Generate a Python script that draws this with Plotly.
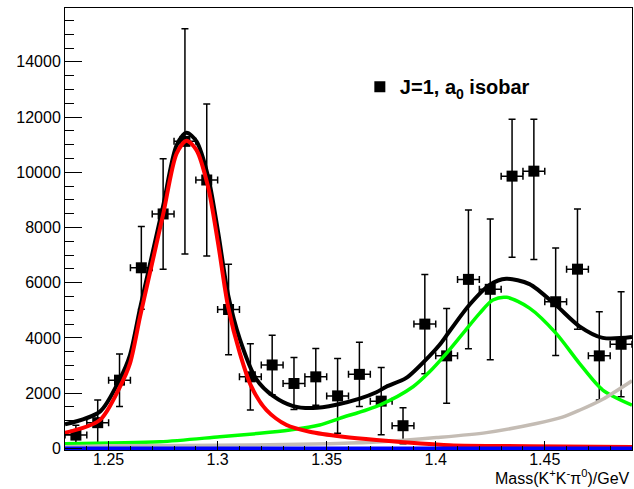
import plotly.graph_objects as go

# ---- data points (bin centres, yields, errors) ----
mass = [1.235, 1.245, 1.255, 1.265, 1.275, 1.285, 1.295, 1.305, 1.315, 1.325,
        1.335, 1.345, 1.355, 1.365, 1.375, 1.385, 1.395, 1.405, 1.415, 1.425,
        1.435, 1.445, 1.455, 1.465, 1.475, 1.485]
yields = [480, 930, 2470, 6540, 8490, 11120, 9720, 5030, 2590, 3020,
          2350, 2590, 1900, 2680, 1710, 820, 4500, 3350, 6120, 5760,
          9860, 10040, 5310, 6490, 3350, 3770]
err_up = [360, 820, 950, 1500, 2000, 4080, 2750, 1640, 1200, 1080,
          940, 1030, 1355, 1160, 1220, 650, 1800, 1715, 2510, 2550,
          2060, 1880, 1950, 2180, 1600, 1900]
err_dn = [360, 820, 950, 1500, 2000, 4080, 2750, 1640, 1200, 1080,
          940, 1030, 1355, 1160, 1220, 650, 1800, 1715, 2510, 2550,
          2940, 3200, 1950, 2180, 1600, 1900]
half_bin = [0.005] * len(mass)

# ---- fit components ----
tot_x = [1.2300, 1.2460, 1.2552, 1.2598, 1.2644, 1.2682, 1.2750, 1.2812, 1.2857,
         1.2903, 1.2956, 1.3002, 1.3048, 1.3102, 1.3178, 1.3254, 1.3346, 1.3437,
         1.3544, 1.3651, 1.3728, 1.3773, 1.3865, 1.3972, 1.4018, 1.4064, 1.4155,
         1.4247, 1.4323, 1.4430, 1.4552, 1.4659, 1.4766, 1.4900]
tot_y = [870, 1330, 2520, 3380, 5070, 6400, 8780, 10980, 11431,
         11120, 9850, 7830, 5560, 3950, 2500, 1900, 1530, 1460,
         1580, 1800, 2030, 2231, 2550, 3350, 3750, 4250, 5200,
         5920, 6140, 5950, 5180, 4420, 4000, 4030]

f1_x = [1.2300, 1.2460, 1.2552, 1.2598, 1.2644, 1.2682, 1.2750, 1.2812, 1.2857,
        1.2903, 1.2956, 1.3002, 1.3048, 1.3102, 1.3155, 1.3224, 1.3316, 1.3422,
        1.3575, 1.3728, 1.4064, 1.4430, 1.4900]
f1_y = [560, 1025, 2231, 3079, 4767, 6096, 8475, 10685, 11141,
        10804, 9475, 7425, 5129, 3441, 2231, 1387, 844, 601,
        420, 301, 110, 80, 50]

f2_x = [1.2300, 1.2735, 1.3010, 1.3193, 1.3331, 1.3468, 1.3560, 1.3743, 1.3896,
        1.3972, 1.4049, 1.4125, 1.4201, 1.4262, 1.4325, 1.4430, 1.4552, 1.4659,
        1.4766, 1.4900]
f2_y = [170, 239, 420, 543, 663, 844, 1087, 1568, 2231,
        2774, 3441, 4165, 4890, 5371, 5469, 5080, 4165, 3079,
        2112, 1568]

bkg_x = [1.2300, 1.2506, 1.3147, 1.3514, 1.3729, 1.4004, 1.4233, 1.4462, 1.4581,
         1.4659, 1.4766, 1.4900]
bkg_y = [60, 90, 120, 170, 230, 390, 570, 900, 1130, 1380, 1780, 2447]

flat_x = [1.2300, 1.4900]
flat_y = [0, 0]

FONT = "Liberation Sans, Arial, Helvetica, sans-serif"

fig = go.Figure()

fig.add_trace(go.Scatter(
    x=mass, y=yields, mode="markers", name="<b>J=1, a<sub>0</sub> isobar</b>",
    marker=dict(symbol="square", size=11, color="black"),
    error_y=dict(type="data", symmetric=False, array=err_up, arrayminus=err_dn,
                 color="black", thickness=1.5, width=3.5),
    error_x=dict(type="data", array=half_bin, color="black", thickness=1.5, width=3.5),
    showlegend=True))

curves = [
    (tot_x, tot_y, "black", 4),
    (f2_x, f2_y, "#00ff00", 3.5),
    (bkg_x, bkg_y, "#c4bcb4", 3.5),
    (f1_x, f1_y, "#ff0000", 4),
    (flat_x, flat_y, "#0000ff", 3.5),
]
for cx, cy, col, w in curves:
    fig.add_trace(go.Scatter(x=cx, y=cy, mode="lines",
                             line=dict(color=col, width=w, shape="spline", smoothing=0.8),
                             showlegend=False, hoverinfo="skip"))

fig.update_layout(
    width=634, height=489,
    margin=dict(l=65, r=2, t=8, b=39),
    paper_bgcolor="white", plot_bgcolor="white",
    font=dict(family=FONT, size=16, color="black"),
    legend=dict(x=0.52, y=0.822, xanchor="left", yanchor="middle",
                bgcolor="rgba(0,0,0,0)", font=dict(family=FONT, size=20, color="black")),
    annotations=[dict(
        text="Mass(K<sup>+</sup>K<sup>-</sup>\u03c0<sup>0</sup>)/GeV",
        xref="paper", yref="paper", x=1.0, y=-0.0888, xanchor="right", yanchor="bottom",
        showarrow=False, font=dict(family=FONT, size=16, color="black"))],
)

fig.update_xaxes(
    range=[1.23, 1.49], showgrid=False, zeroline=False,
    showline=True, linecolor="black", linewidth=1, mirror=True,
    ticks="inside", ticklen=9, tickwidth=1, tickcolor="black",
    tick0=1.25, dtick=0.05, tickformat=".2~f", ticklabelstandoff=-5,
    tickfont=dict(family=FONT, size=16, color="black"),
    minor=dict(ticks="inside", ticklen=4, dtick=0.01, tick0=1.23, tickcolor="black"),
)
fig.update_yaxes(
    range=[-60, 15950], showgrid=False, zeroline=False,
    showline=True, linecolor="black", linewidth=1, mirror=True,
    ticks="inside", ticklen=17, tickwidth=1, tickcolor="black",
    tick0=0, dtick=2000, tickformat="d",
    tickfont=dict(family=FONT, size=16, color="black"),
    minor=dict(ticks="inside", ticklen=9, dtick=500, tickcolor="black"),
)

fig.write_html("out.html")
